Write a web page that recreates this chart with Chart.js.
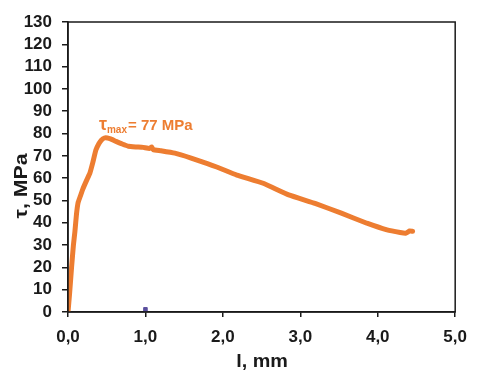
<!DOCTYPE html>
<html>
<head>
  <meta charset="UTF-8">
  <title>Shear stress vs displacement</title>
  <script src="https://cdn.jsdelivr.net/npm/chart.js"></script>
  <style>
    body {
      margin: 0;
      background: #ffffff;
    }
    #wrap {
      width: 477px;
      height: 374px;
    }
  </style>
</head>
<body>
  <div id="wrap"><canvas id="tauChart" width="477" height="374"></canvas></div>

  <script>
  // Displacement l (mm) and shear stress tau (MPa)
  const displacement = [0.00, 0.02, 0.046, 0.07, 0.089, 0.11, 0.13, 0.16, 0.19, 0.24, 0.28, 0.32, 0.36, 0.40,
    0.43, 0.47, 0.51, 0.55, 0.62, 0.70, 0.78, 0.88, 0.97, 1.05, 1.08, 1.10, 1.20, 1.38, 1.59, 1.80, 1.92,
    2.18, 2.52, 2.85, 3.19, 3.53, 3.86, 4.12, 4.29, 4.36, 4.41, 4.45];
  const tauValues = [0, 8, 20, 30, 36, 44, 49, 52, 55, 59, 62, 67, 72.6, 75.5,
    77, 78, 78, 77.6, 76.5, 75.3, 74.3, 74, 73.8, 73.3, 74, 72.8, 72.3, 71.2, 69, 66.5, 65,
    61.4, 57.7, 52.5, 48.7, 44.3, 39.8, 36.8, 35.6, 35.3, 36.3, 36.2];

  // Stray marker near the x axis
  const strayX = [1.0];
  const strayY = [1.2];

  // Peak annotation
  const peakX = 0.49;
  const peakY = 78;
  const peakLabel = '= 77 MPa';

  const xTicks = [0, 1, 2, 3, 4, 5];
  const yMax = 130;
  const yStep = 10;

  const orange = '#ED7D31';
  const fontName = '"Liberation Sans", Arial, sans-serif';

  // Frame, axis titles and the tau max label
  const extras = {
    id: 'extras',
    afterDraw(chart) {
      const ctx = chart.ctx;
      const a = chart.chartArea;
      ctx.save();
      ctx.strokeStyle = '#1a1a1a';
      ctx.lineWidth = 1.5;
      ctx.strokeRect(a.left, a.top, a.right - a.left, a.bottom - a.top);

      ctx.fillStyle = '#1a1a1a';
      ctx.textAlign = 'center';
      ctx.textBaseline = 'middle';
      ctx.save();
      ctx.translate(22, 186);
      ctx.rotate(-Math.PI / 2);
      ctx.scale(1.18, 1);
      ctx.font = 'bold 18px ' + fontName;
      ctx.fillText('τ, MPa', 0, 0);
      ctx.restore();
      ctx.save();
      ctx.translate(262, 362);
      ctx.scale(1.1, 1);
      ctx.font = 'bold 18px ' + fontName;
      ctx.fillText('l, mm', 0, 0);
      ctx.restore();

      // tau_max label placed above the peak
      const px = chart.scales.x.getPixelForValue(peakX) - 7;
      const py = chart.scales.y.getPixelForValue(peakY) - 8;
      ctx.fillStyle = orange;
      ctx.textAlign = 'left';
      ctx.textBaseline = 'alphabetic';
      ctx.font = 'bold 18px ' + fontName;
      ctx.fillText('τ', px, py);
      let cx = px + ctx.measureText('τ').width;
      ctx.font = 'bold 10px ' + fontName;
      ctx.fillText('max', cx, py + 3);
      cx += ctx.measureText('max').width + 1;
      ctx.font = 'bold 15px ' + fontName;
      ctx.fillText(peakLabel, cx, py);
      ctx.restore();
    }
  };

  const tauChart = new Chart(document.getElementById('tauChart'), {
    type: 'line',
    data: {
      datasets: [{
        label: 'tau',
        data: displacement.map((x, i) => ({ x: x, y: tauValues[i] })),
        borderColor: orange,
        borderWidth: 5,
        pointRadius: 0,
        tension: 0.1,
        borderCapStyle: 'round',
        borderJoinStyle: 'round'
      }, {
        label: 'stray',
        data: strayX.map((x, i) => ({ x: x, y: strayY[i] })),
        showLine: false,
        pointStyle: 'rect',
        pointRadius: 2.5,
        backgroundColor: '#5b4f9e',
        borderColor: '#5b4f9e'
      }]
    },
    options: {
      responsive: false,
      animation: false,
      layout: { padding: { left: 0, top: 22, right: 14, bottom: 0 } },
      plugins: {
        legend: { display: false },
        tooltip: { enabled: false }
      },
      scales: {
        x: {
          type: 'linear',
          min: 0,
          max: 5,
          afterFit(scale) { scale.height = 62; },
          afterBuildTicks(scale) { scale.ticks = xTicks.map(v => ({ value: v })); },
          border: { color: '#1a1a1a', width: 1.5 },
          grid: { drawOnChartArea: false, tickLength: 5, color: '#1a1a1a', lineWidth: 1.5 },
          ticks: {
            padding: 10,
            autoSkip: false,
            maxRotation: 0,
            color: '#1a1a1a',
            font: { family: fontName, size: 17, weight: 'bold' },
            callback: v => v.toFixed(1).replace('.', ',')
          }
        },
        y: {
          min: 0,
          max: yMax,
          afterFit(scale) { scale.width = 68; },
          border: { color: '#1a1a1a', width: 1.5 },
          grid: { drawOnChartArea: false, tickLength: 6, color: '#1a1a1a', lineWidth: 1.5 },
          ticks: {
            stepSize: yStep,
            autoSkip: false,
            padding: 10,
            color: '#1a1a1a',
            font: { family: fontName, size: 17, weight: 'bold' }
          }
        }
      }
    },
    plugins: [extras]
  });
  </script>
</body>
</html>
